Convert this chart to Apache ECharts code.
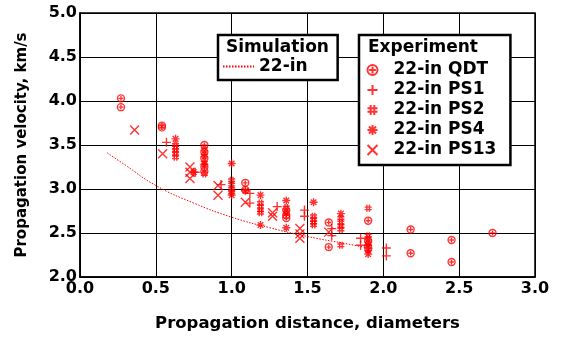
<!DOCTYPE html>
<html><head><meta charset="utf-8">
<script src="https://cdn.jsdelivr.net/npm/echarts@6/dist/echarts.min.js"></script>
<style>html,body{margin:0;padding:0;background:#fff}#c{width:562px;height:339px}</style>
</head><body><div id="c"></div>
<script>
var xTicks = [0, 0.5, 1.0, 1.5, 2.0, 2.5, 3.0];
var yTicks = [2.0, 2.5, 3.0, 3.5, 4.0, 4.5, 5.0];

var sim22 = [[0.18,3.41],[0.3,3.27],[0.5,3.04],[0.75,2.84],[1.0,2.68],[1.25,2.56],[1.5,2.46],[1.75,2.38],[1.93,2.32]];

var qdt = [[0.27,4.03],[0.27,3.93],[0.54,3.72],[0.54,3.70],[0.82,3.50],[0.82,3.42],[0.82,3.35],[0.82,3.25],[0.82,3.20],
  [1.09,3.07],[1.09,2.99],[1.36,2.76],[1.36,2.70],[1.36,2.67],[1.64,2.62],[1.64,2.34],[1.90,2.64],[1.90,2.41],[1.90,2.33],
  [2.18,2.54],[2.18,2.27],[2.45,2.42],[2.45,2.17],[2.72,2.50]];
var ps1 = [[0.57,3.53],[0.76,3.19],[0.93,3.05],[1.12,2.95],[1.12,2.84],[1.30,2.80],[1.48,2.76],[1.48,2.69],
  [1.66,2.55],[1.66,2.47],[1.85,2.44],[1.85,2.36],[2.02,2.33],[2.02,2.24]];
var ps2 = [[0.63,3.50],[0.63,3.47],[0.63,3.44],[0.63,3.40],[0.63,3.36],[0.82,3.45],[0.82,3.38],[0.82,3.30],[0.82,3.17],
  [1.0,3.10],[1.0,3.05],[1.0,3.00],[1.0,2.96],[1.19,2.84],[1.19,2.80],[1.19,2.76],[1.19,2.73],[1.36,2.79],[1.36,2.73],
  [1.54,2.69],[1.54,2.65],[1.54,2.62],[1.54,2.59],[1.72,2.67],[1.72,2.62],[1.72,2.58],[1.72,2.54],[1.72,2.36],
  [1.90,2.78],[1.90,2.47],[1.90,2.44],[1.90,2.38]];
var ps4 = [[0.63,3.57],[0.75,3.19],[0.82,3.28],[1.0,3.29],[1.0,2.93],[1.09,2.98],[1.19,2.93],[1.19,2.59],[1.36,2.87],[1.36,2.56],
  [1.54,2.85],[1.72,2.72],[1.90,2.36],[1.90,2.30],[1.90,2.26]];
var ps13 = [[0.36,3.67],[0.545,3.40],[0.725,3.25],[0.725,3.19],[0.725,3.12],[0.91,3.04],[0.91,2.93],[1.09,2.85],
  [1.27,2.73],[1.27,2.69],[1.45,2.55],[1.45,2.49],[1.45,2.44],[1.64,2.51]];

var RED = '#ff0000';
var FONT = 'DejaVu Sans';
var sym = {
  qdt: 'path://M9,5A4,4,0,1,1,1,5A4,4,0,1,1,9,5ZM5,2.3L5,7.7M2.3,5L7.7,5',
  ps1: 'path://M5,0L5,10M0,5L10,5',
  ps2: 'path://M3.2,0L3.2,10M6.8,0L6.8,10M0,3.2L10,3.2M0,6.8L10,6.8',
  ps4: 'path://M5,0L5,10M0,5L10,5M1.5,1.5L8.5,8.5M8.5,1.5L1.5,8.5',
  ps13: 'path://M0,0L10,10M10,0L0,10'
};
function sc(name, data, s, size) {
  return {
    name: name, type: 'scatter', data: data, symbol: s, symbolSize: size, symbolKeepAspect: true,
    itemStyle: { color: 'none', borderColor: RED, borderWidth: 1.4 }, z: 3
  };
}

var chart = echarts.init(document.getElementById('c'), null, { renderer: 'canvas' });
chart.setOption({
  animation: false,
  backgroundColor: '#fff',
  grid: { left: 80, right: 27, top: 13, bottom: 62, show: true, borderColor: '#000', borderWidth: 1.5, backgroundColor: 'transparent' },
  xAxis: {
    type: 'value', min: 0, max: 3, interval: 0.5,
    name: 'Propagation distance, diameters', nameLocation: 'middle', nameGap: 38,
    nameTextStyle: { fontFamily: FONT, fontWeight: 'bold', fontSize: 16.5, color: '#000' },
    axisLine: { show: true, lineStyle: { color: '#000', width: 1.5 } },
    axisTick: { show: false },
    splitLine: { show: true, lineStyle: { color: '#000', width: 1 } },
    axisLabel: { margin: 4, fontFamily: FONT, fontWeight: 'bold', fontSize: 16, color: '#000',
      formatter: function (v) { return v.toFixed(1); } }
  },
  yAxis: {
    type: 'value', min: 2, max: 5, interval: 0.5,
    name: 'Propagation velocity, km/s', nameLocation: 'middle', nameGap: 50,
    nameTextStyle: { fontFamily: FONT, fontWeight: 'bold', fontSize: 15, color: '#000' },
    axisLine: { show: true, lineStyle: { color: '#000', width: 1.5 } },
    axisTick: { show: false },
    splitLine: { show: true, lineStyle: { color: '#000', width: 1 } },
    axisLabel: { margin: 3, fontFamily: FONT, fontWeight: 'bold', fontSize: 16, color: '#000',
      formatter: function (v) { return v.toFixed(1); } }
  },
  legend: [
    {
      data: [{ name: '22-in', itemStyle: { opacity: 0 } }], orient: 'vertical', left: 218, top: 35,
      padding: [23, 30, 5, 4], itemWidth: 31, itemHeight: 14,
      backgroundColor: '#fff', borderColor: '#000', borderWidth: 2.5,
      textStyle: { fontFamily: FONT, fontWeight: 'bold', fontSize: 17, color: '#000' }
    },
    {
      data: ['22-in QDT', '22-in PS1', '22-in PS2', '22-in PS4', '22-in PS13'], orient: 'vertical', left: 359, top: 35,
      padding: [26, 14, 6, 6], itemWidth: 32, itemHeight: 10, itemGap: 2,
      backgroundColor: '#fff', borderColor: '#000', borderWidth: 2.5,
      textStyle: { fontFamily: FONT, fontWeight: 'bold', fontSize: 17, lineHeight: 18, color: '#000' }
    }
  ],
  graphic: [
    { type: 'text', left: 226, top: 39, z: 100, style: { text: 'Simulation', fontFamily: FONT, fontWeight: 'bold', fontSize: 17, fill: '#000' } },
    { type: 'text', left: 368, top: 39, z: 100, style: { text: 'Experiment', fontFamily: FONT, fontWeight: 'bold', fontSize: 17, fill: '#000' } }
  ],
  series: [
    { name: '22-in', type: 'line', data: sim22, smooth: true, showSymbol: false, symbol: 'none',
      lineStyle: { color: RED, width: 1, type: [1.5, 1.5] }, itemStyle: { color: RED }, z: 2 },
    sc('22-in QDT', qdt, sym.qdt, 7),
    sc('22-in PS1', ps1, sym.ps1, 9),
    sc('22-in PS2', ps2, sym.ps2, 7),
    sc('22-in PS4', ps4, sym.ps4, 8),
    sc('22-in PS13', ps13, sym.ps13, 9)
  ]
});
</script></body></html>
